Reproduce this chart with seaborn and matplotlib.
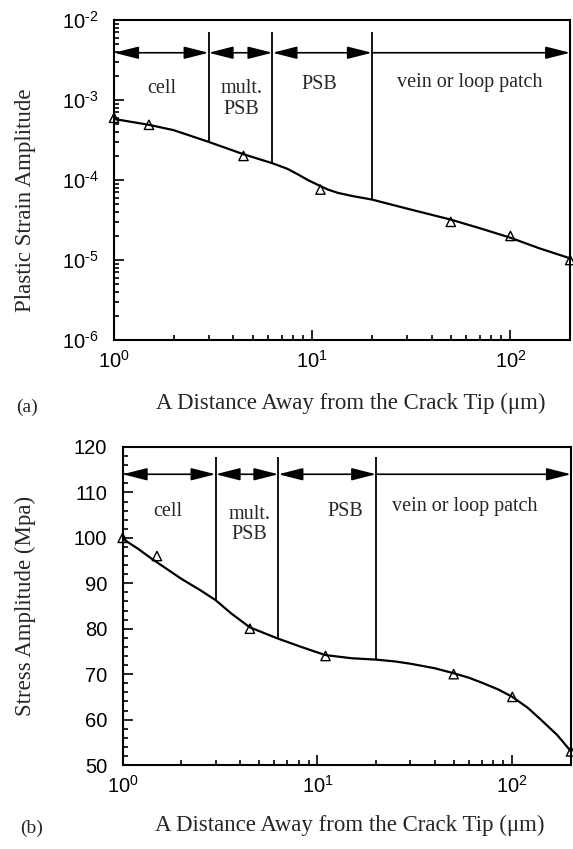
import numpy as np
import matplotlib
matplotlib.use('Agg')
import matplotlib.pyplot as plt
import matplotlib.ticker as mticker
import seaborn as sns

# Panel (a): plastic strain amplitude vs distance from crack tip
strain_pts_x = [1, 1.5, 4.5, 11, 50, 100, 200]
strain_pts_y = [6.0e-4, 4.9e-4, 2.0e-4, 7.6e-5, 3.0e-5, 2.0e-5, 1.0e-5]
strain_curve_x = [1, 1.5, 2, 3, 4.5, 6.3, 7.5, 8.5, 9.5, 11, 12, 13.5, 16, 20,
                  30, 50, 70, 100, 140, 200]
strain_curve_y = [5.8e-4, 4.9e-4, 4.2e-4, 3.0e-4, 2.1e-4, 1.62e-4, 1.38e-4, 1.17e-4,
                  1.0e-4, 8.4e-5, 7.6e-5, 6.9e-5, 6.3e-5, 5.7e-5, 4.4e-5, 3.2e-5,
                  2.5e-5, 1.9e-5, 1.4e-5, 1.05e-5]
strain_bound_y = [3.0e-4, 1.62e-4, 5.7e-5]

# Panel (b): stress amplitude vs distance from crack tip
stress_pts_x = [1, 1.5, 4.5, 11, 50, 100, 200]
stress_pts_y = [100, 96, 80, 74, 70, 65, 53]
stress_curve_x = [1, 1.2, 1.4, 2, 2.5, 3, 3.6, 4.5, 5.5, 6.3, 8, 9.5, 11, 15, 20, 25,
                  30, 40, 50, 60, 70, 85, 100, 120, 140, 170, 200]
stress_curve_y = [99.8, 97.6, 95.5, 91, 88.5, 86.3, 83.4, 80.3, 78.8, 77.8, 76.2,
                  75.1, 74.2, 73.5, 73.2, 72.8, 72.3, 71.3, 70.2, 69.2, 68.1, 66.6,
                  65, 62.6, 60, 56.6, 53]
stress_bound_y = [86.3, 77.8, 73.2]

# Regions
bounds = [3, 6.3, 20]
region_edges = [1, 3, 6.3, 20, 200]
region_names = ['cell', 'mult.\nPSB', 'PSB', 'vein or loop patch']

sns.set_style('ticks')
plt.rcParams['font.family'] = ['Liberation Sans', 'DejaVu Sans']
plt.rcParams['mathtext.fontset'] = 'custom'
plt.rcParams['mathtext.rm'] = 'Liberation Sans'
plt.rcParams['mathtext.it'] = 'Liberation Sans'
plt.rcParams['axes.unicode_minus'] = False

serif = ['Liberation Serif', 'DejaVu Serif']


def pow_label(v, pos):
    e = int(round(np.log10(v)))
    return r'$10^{\text{%d}}$' % e


fig = plt.figure(figsize=(5.73, 8.49), dpi=100)
ax1 = fig.add_axes([0.199, 0.5995, 0.796, 0.3769])
ax2 = fig.add_axes([0.214, 0.0989, 0.7825, 0.3746])


def style_axes(ax):
    for sp in ax.spines.values():
        sp.set_linewidth(1.5)
        sp.set_color('black')
    ax.tick_params(which='both', direction='in', top=False, right=False,
                   labelsize=14.5, width=1.2, colors='black')
    ax.tick_params(which='major', length=7)
    ax.tick_params(which='minor', length=3.5)
    ax.tick_params(axis='y', which='both', pad=11)
    ax.tick_params(axis='x', which='both', pad=7)
    ax.set_xscale('log')
    ax.set_xlim(1, 200)
    ax.xaxis.set_major_locator(mticker.LogLocator(base=10, numticks=10))
    ax.xaxis.set_major_formatter(mticker.FuncFormatter(pow_label))
    ax.xaxis.set_minor_locator(mticker.LogLocator(base=10, subs=np.arange(2, 10), numticks=20))
    ax.xaxis.set_minor_formatter(mticker.NullFormatter())


def draw_regions(ax, arrow_y, line_top, bound_y, text_pos):
    # vertical region boundaries
    ax.vlines(bounds, bound_y, line_top, color='black', lw=1.3)
    # arrows spanning each region
    for i in range(len(region_edges) - 1):
        style = '<|-|>' if i < len(region_edges) - 2 else '-|>'
        ax.annotate('', xy=(region_edges[i + 1], arrow_y), xytext=(region_edges[i], arrow_y),
                    arrowprops=dict(arrowstyle=style + ',head_length=1.5,head_width=0.38',
                                    color='black', lw=1.2, shrinkA=0, shrinkB=0,
                                    mutation_scale=10))
    for name, (tx, ty) in zip(region_names, text_pos):
        ax.text(tx, ty, name, ha='center', va='center', fontsize=14.5,
                family=serif, linespacing=1.1)


# Panel (a)
ax1.set_yscale('log')
style_axes(ax1)
sns.lineplot(x=strain_curve_x, y=strain_curve_y, ax=ax1, color='black', lw=1.6)
sns.scatterplot(x=strain_pts_x, y=strain_pts_y, ax=ax1, marker='^', s=45,
                facecolors='none', edgecolor='black', linewidth=1, zorder=3, clip_on=False)
ax1.set_ylim(1e-6, 1e-2)
ax1.set_xlim(1, 200)
ax1.yaxis.set_major_formatter(mticker.FuncFormatter(pow_label))
ax1.yaxis.set_minor_locator(mticker.LogLocator(base=10, subs=np.arange(2, 10), numticks=20))
ax1.yaxis.set_minor_formatter(mticker.NullFormatter())
draw_regions(ax1, 3.9e-3, 7.1e-3, strain_bound_y,
             [(1.74, 1.41e-3), (4.4, 1.03e-3), (10.9, 1.58e-3), (62, 1.68e-3)])
ax1.set_xlabel('A Distance Away from the Crack Tip (\u03bcm)', fontsize=16.5, family=serif)
ax1.set_ylabel('Plastic Strain Amplitude', fontsize=16.5, family=serif)
ax1.xaxis.set_label_coords(0.518, -0.165)
ax1.yaxis.set_label_coords(-0.171, 0.4375)

# Panel (b)
style_axes(ax2)
sns.lineplot(x=stress_curve_x, y=stress_curve_y, ax=ax2, color='black', lw=1.6)
sns.scatterplot(x=stress_pts_x, y=stress_pts_y, ax=ax2, marker='^', s=45,
                facecolors='none', edgecolor='black', linewidth=1, zorder=3, clip_on=False)
ax2.set_ylim(50, 120)
ax2.set_xlim(1, 200)
ax2.yaxis.set_major_locator(mticker.MultipleLocator(10))
ax2.yaxis.set_minor_locator(mticker.MultipleLocator(2))
draw_regions(ax2, 114, 117.8, stress_bound_y,
             [(1.70, 105.7), (4.48, 102.9), (13.9, 105.7), (57, 106.8)])
ax2.set_xlabel('A Distance Away from the Crack Tip (\u03bcm)', fontsize=16.5, family=serif)
ax2.set_ylabel('Stress Amplitude (Mpa)', fontsize=16.5, family=serif)
ax2.xaxis.set_label_coords(0.507, -0.157)
ax2.yaxis.set_label_coords(-0.193, 0.5)

fig.text(27 / 573, 1 - 407 / 849, '(a)', fontsize=14, family=serif, ha='center', va='center')
fig.text(32 / 573, 1 - 828 / 849, '(b)', fontsize=14, family=serif, ha='center', va='center')

fig.savefig('out.png', dpi=100)
